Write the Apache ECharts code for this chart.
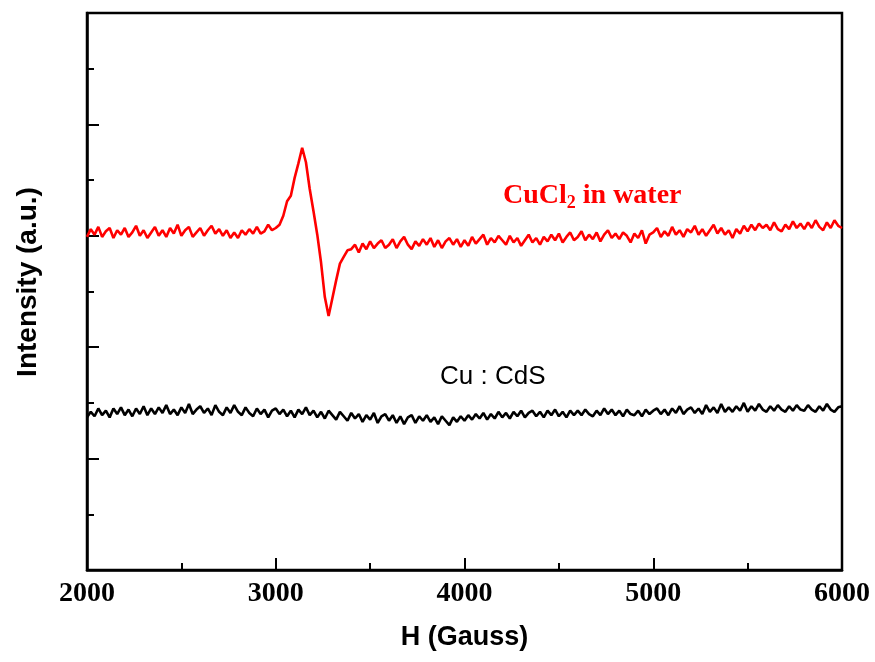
<!DOCTYPE html>
<html>
<head>
<meta charset="utf-8">
<script src="https://cdn.jsdelivr.net/npm/echarts@6/dist/echarts.min.js"></script>
<style>html,body{margin:0;padding:0;background:#fff}#c{width:875px;height:662px}</style>
</head>
<body>
<div id="c"></div>
<script>
// Magnetic field H (Gauss), 2000..6000 step 20
const fieldStart = 2000, fieldStep = 20;
const xTicks = [2000, 3000, 4000, 5000, 6000];
const xLabel = 'H (Gauss)';
const yLabel = 'Intensity (a.u.)';
const redName = 'CuCl2 in water';
const blackName = 'Cu : CdS';

const cuCl2Water = [
  2.99, 3.06, 3.01, 3.08, 2.99, 3.04, 3.07, 2.98, 3.05, 3.01,
  3.07, 2.99, 3.03, 3.09, 3.00, 3.05, 2.98, 3.03, 3.08, 3.00,
  3.05, 2.99, 3.07, 3.02, 3.10, 3.00, 3.05, 3.08, 2.99, 3.03,
  3.07, 3.00, 3.05, 3.09, 3.02, 3.06, 3.00, 3.05, 2.98, 3.03,
  2.98, 3.05, 3.01, 3.06, 3.02, 3.08, 3.02, 3.04, 3.10, 3.05,
  3.07, 3.10, 3.18, 3.31, 3.36, 3.52, 3.65, 3.79, 3.66, 3.42,
  3.22, 3.01, 2.76, 2.45, 2.28, 2.44, 2.60, 2.75, 2.81, 2.87,
  2.88, 2.92, 2.85, 2.93, 2.88, 2.95, 2.89, 2.93, 2.96, 2.89,
  2.92, 2.97, 2.89, 2.95, 2.99, 2.92, 2.88, 2.95, 2.91, 2.97,
  2.92, 2.98, 2.90, 2.96, 2.89, 2.95, 2.98, 2.92, 2.97, 2.90,
  2.96, 2.91, 2.99, 2.93, 2.97, 3.01, 2.92, 2.98, 2.94, 3.00,
  2.96, 2.92, 3.00, 2.94, 2.98, 2.91, 2.96, 3.01, 2.94, 2.98,
  2.92, 2.99, 2.95, 3.01, 2.96, 3.02, 2.94, 2.99, 3.03, 2.96,
  2.99, 3.04, 2.96, 3.01, 2.97, 3.03, 2.95, 3.01, 3.05, 2.98,
  3.02, 2.97, 3.03, 3.00, 2.94, 3.02, 2.98, 3.05, 2.93, 3.01,
  3.03, 3.07, 2.99, 3.04, 3.00, 3.08, 3.01, 3.05, 2.99, 3.06,
  3.03, 3.09, 3.01, 3.06, 3.00, 3.05, 3.10, 3.02, 3.07, 3.01,
  3.05, 2.98, 3.06, 3.02, 3.09, 3.04, 3.10, 3.05, 3.11, 3.07,
  3.10, 3.05, 3.12, 3.06, 3.04, 3.10, 3.06, 3.13, 3.07, 3.11,
  3.06, 3.12, 3.07, 3.14, 3.08, 3.05, 3.12, 3.07, 3.14, 3.09,
  3.07
];

const cuCdS = [
  1.37, 1.42, 1.38, 1.45, 1.39, 1.43, 1.37, 1.45, 1.40, 1.46,
  1.39, 1.44, 1.38, 1.45, 1.40, 1.47, 1.39, 1.45, 1.40, 1.46,
  1.41, 1.48, 1.40, 1.44, 1.39, 1.46, 1.41, 1.49, 1.40, 1.44,
  1.47, 1.41, 1.45, 1.39, 1.48, 1.42, 1.39, 1.46, 1.41, 1.48,
  1.42, 1.39, 1.46, 1.41, 1.38, 1.45, 1.40, 1.44, 1.37, 1.43,
  1.45, 1.40, 1.44, 1.38, 1.43, 1.37, 1.44, 1.40, 1.46, 1.39,
  1.43, 1.37, 1.42, 1.36, 1.43, 1.39, 1.35, 1.42, 1.38, 1.34,
  1.41, 1.36, 1.40, 1.33, 1.39, 1.35, 1.41, 1.32, 1.38, 1.40,
  1.34, 1.39, 1.32, 1.38, 1.31, 1.37, 1.39, 1.32, 1.38, 1.34,
  1.39, 1.33, 1.37, 1.31, 1.38, 1.34, 1.30, 1.37, 1.33, 1.38,
  1.34, 1.39, 1.35, 1.40, 1.36, 1.41, 1.35, 1.40, 1.36, 1.42,
  1.37, 1.41, 1.36, 1.42, 1.38, 1.43, 1.37, 1.41, 1.43, 1.38,
  1.42, 1.37, 1.43, 1.39, 1.44, 1.38, 1.42, 1.37, 1.43, 1.39,
  1.43, 1.39, 1.44, 1.40, 1.38, 1.43, 1.39, 1.45, 1.40, 1.44,
  1.39, 1.43, 1.38, 1.44, 1.40, 1.39, 1.43, 1.38, 1.44, 1.40,
  1.43, 1.45, 1.40, 1.44, 1.39, 1.45, 1.41, 1.47, 1.40, 1.44,
  1.46, 1.41, 1.45, 1.40, 1.48, 1.42, 1.46, 1.41, 1.49, 1.42,
  1.46, 1.42, 1.47, 1.43, 1.50, 1.42, 1.47, 1.43, 1.49, 1.44,
  1.42, 1.47, 1.43, 1.48, 1.44, 1.42, 1.47, 1.43, 1.48, 1.44,
  1.43, 1.48, 1.44, 1.42, 1.47, 1.43, 1.49, 1.44, 1.42, 1.46,
  1.47
];

const toPairs = arr => arr.map((v, i) => [fieldStart + i * fieldStep, v]);

const chart = echarts.init(document.getElementById('c'), null, {renderer: 'canvas'});
chart.setOption({
  animation: false,
  backgroundColor: '#fff',
  grid: {left: 87, right: 33, top: 13, bottom: 92, show: true, borderColor: '#000', borderWidth: 2.5, backgroundColor: 'transparent'},
  xAxis: {
    type: 'value', min: 2000, max: 6000, interval: 1000,
    name: xLabel, nameLocation: 'middle', nameGap: 54,
    nameTextStyle: {fontFamily: 'Liberation Sans', fontWeight: 'bold', fontSize: 27, color: '#000'},
    axisLine: {show: true, lineStyle: {color: '#000', width: 2.5}},
    axisTick: {show: true, inside: true, length: 12, lineStyle: {color: '#000', width: 2}},
    minorTick: {show: true, splitNumber: 2, length: 7, lineStyle: {color: '#000', width: 2}},
    axisLabel: {fontFamily: 'Liberation Serif', fontWeight: 'bold', fontSize: 28, color: '#000', margin: 10,
      formatter: v => xTicks.includes(v) ? String(v) : ''},
    splitLine: {show: false}
  },
  yAxis: {
    type: 'value', min: 0, max: 5, interval: 1,
    axisLine: {show: true, lineStyle: {color: '#000', width: 2.5}},
    axisTick: {show: true, inside: true, length: 12, lineStyle: {color: '#000', width: 2}},
    minorTick: {show: true, splitNumber: 2, length: 7, lineStyle: {color: '#000', width: 2}},
    axisLabel: {show: false},
    splitLine: {show: false}
  },
  series: [
    {name: redName, type: 'line', data: toPairs(cuCl2Water), showSymbol: false, symbol: 'none',
      lineStyle: {color: '#ff0000', width: 2.6}, itemStyle: {color: '#ff0000'}},
    {name: blackName, type: 'line', data: toPairs(cuCdS), showSymbol: false, symbol: 'none',
      lineStyle: {color: '#000', width: 2.6}, itemStyle: {color: '#000'}}
  ],
  graphic: [
    {type: 'text', x: 28, y: 282, rotation: Math.PI / 2, style: {
      text: yLabel, fill: '#000', font: 'bold 28px "Liberation Sans"', align: 'center', verticalAlign: 'middle'
    }},
    {type: 'text', left: 503, top: 182, style: {
      text: 'CuCl{sub|2} in water',
      fill: '#ff0000', font: 'bold 28px "Liberation Serif"',
      rich: {sub: {fontFamily: 'Liberation Serif', fontWeight: 'bold', fontSize: 18, fill: '#ff0000', padding: [15, 0, 0, 0]}}
    }},
    {type: 'text', left: 440, top: 364, style: {
      text: blackName, fill: '#000', font: '26px "Liberation Sans"'
    }}
  ]
});
</script>
</body>
</html>
